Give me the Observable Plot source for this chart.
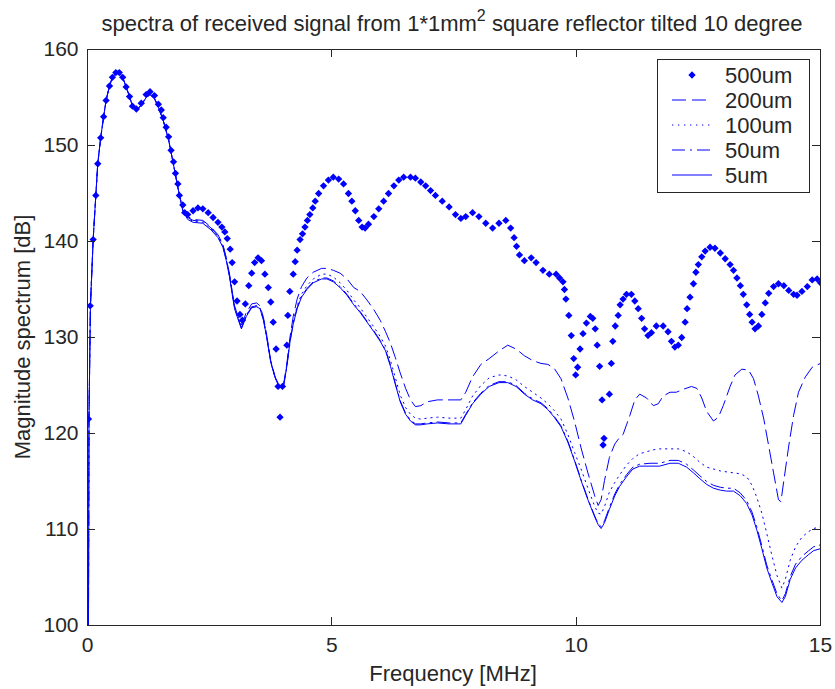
<!DOCTYPE html>
<html>
<head>
<meta charset="utf-8">
<script src="https://cdn.jsdelivr.net/npm/d3@7"></script>
<script src="https://cdn.jsdelivr.net/npm/@observablehq/plot@0.6"></script>
<style>
  body { margin: 0; background: #fff; }
  #chart { width: 835px; height: 689px; }
</style>
</head>
<body>
<div id="chart"></div>
<script>
// ---------- text ----------
const titleMain = "spectra of received signal from 1*1mm";
const titleSup = "2";
const titleRest = " square reflector tilted 10 degree";
const xLabel = "Frequency [MHz]";
const yLabel = "Magnitude spectrum [dB]";
const xTicks = [0, 5, 10, 15];
const yTicks = [100, 110, 120, 130, 140, 150, 160];
const seriesNames = ["500um", "200um", "100um", "50um", "5um"];

// ---------- data: [frequency MHz, magnitude dB] ----------
const s500 = [[0.02,121.5],[0.055,133.3],[0.116,140.2],[0.17,144.8],[0.21,148.1],[0.27,150.8],[0.33,153.0],[0.38,154.7],[0.45,156.2],[0.51,157.1],[0.58,157.6],[0.65,157.6],[0.72,157.1],[0.79,156.1],[0.86,155.1],[0.92,154.1],[1.0,153.8],[1.1,154.4],[1.2,155.3],[1.28,155.6],[1.37,155.2],[1.45,154.3],[1.51,153.7],[1.55,152.9],[1.61,151.9],[1.66,150.9],[1.71,149.5],[1.76,148.3],[1.8,147.1],[1.85,146.0],[1.88,144.8],[1.95,143.8],[1.99,143.0],[2.05,142.8],[2.16,143.2],[2.26,143.5],[2.36,143.4],[2.47,143.0],[2.57,142.5],[2.67,142.0],[2.75,141.5],[2.81,141.0],[2.86,140.3],[2.92,139.2],[2.96,137.8],[3.01,135.8],[3.06,133.8],[3.12,132.4],[3.17,131.8],[3.23,133.5],[3.30,135.4],[3.36,136.7],[3.42,137.8],[3.49,138.3],[3.56,138.0],[3.63,136.6],[3.70,135.2],[3.75,133.7],[3.80,131.6],[3.86,128.8],[3.90,124.9],[3.94,121.7],[3.99,124.9],[4.08,129.2],[4.10,132.3],[4.14,134.8],[4.21,136.6],[4.25,137.9],[4.29,139.1],[4.35,140.2],[4.40,140.8],[4.45,141.5],[4.50,142.2],[4.55,142.8],[4.61,143.5],[4.66,144.2],[4.73,145.0],[4.83,145.8],[4.93,146.4],[5.03,146.7],[5.14,146.5],[5.24,146.0],[5.34,145.0],[5.41,144.2],[5.48,143.2],[5.55,142.2],[5.62,141.5],[5.68,141.4],[5.75,141.8],[5.86,142.6],[5.96,143.4],[6.06,144.2],[6.16,145.0],[6.27,145.8],[6.37,146.4],[6.47,146.7],[6.61,146.7],[6.71,146.6],[6.82,146.2],[6.92,145.8],[7.02,145.3],[7.12,144.8],[7.26,144.2],[7.40,143.6],[7.53,142.8],[7.64,142.4],[7.74,142.6],[7.88,143.0],[8.01,142.6],[8.15,141.9],[8.29,141.4],[8.42,141.9],[8.56,142.2],[8.66,141.4],[8.73,140.4],[8.78,139.5],[8.84,138.6],[8.94,138.0],[9.08,138.3],[9.18,137.8],[9.32,137.0],[9.45,136.6],[9.59,136.6],[9.66,136.2],[9.73,135.8],[9.76,135.0],[9.79,134.0],[9.85,132.3],[9.90,130.2],[9.95,127.8],[9.99,126.1],[10.03,126.9],[10.08,128.8],[10.14,130.4],[10.21,131.5],[10.29,132.2],[10.34,132.0],[10.39,130.9],[10.43,129.2],[10.48,127.0],[10.53,123.5],[10.57,119.5],[10.55,118.8],[10.68,124.1],[10.72,127.3],[10.75,129.6],[10.80,131.2],[10.86,132.3],[10.90,133.4],[10.96,134.0],[11.03,134.5],[11.13,134.5],[11.20,133.8],[11.27,133.0],[11.34,132.0],[11.40,130.9],[11.47,130.2],[11.54,130.5],[11.64,131.2],[11.78,131.2],[11.88,130.6],[11.95,129.6],[12.02,129.0],[12.09,129.2],[12.16,130.0],[12.23,131.6],[12.27,133.0],[12.33,134.2],[12.40,135.6],[12.45,136.8],[12.50,137.6],[12.57,138.4],[12.64,139.0],[12.74,139.4],[12.84,139.3],[12.95,138.8],[13.05,138.2],[13.15,137.6],[13.22,137.0],[13.29,136.2],[13.36,135.4],[13.42,134.5],[13.49,133.4],[13.55,132.4],[13.60,131.6],[13.66,130.9],[13.73,131.2],[13.80,132.4],[13.87,133.6],[13.94,134.6],[14.04,135.3],[14.14,135.6],[14.25,135.4],[14.35,134.9],[14.45,134.5],[14.52,134.4],[14.62,134.8],[14.73,135.3],[14.83,136.0],[14.93,136.1],[15.0,135.7]];

const s200 = [[0.02,100],[0.03,121.5],[0.06,133.3],[0.116,140.2],[0.17,144.8],[0.21,148.1],[0.27,150.8],[0.33,153.0],[0.38,154.7],[0.45,156.2],[0.51,157.1],[0.58,157.6],[0.65,157.6],[0.72,157.1],[0.79,156.1],[0.86,155.1],[0.92,154.1],[1.0,153.7],[1.1,154.2],[1.2,155.0],[1.28,155.3],[1.37,154.9],[1.45,154.0],[1.55,152.6],[1.66,150.6],[1.76,148.0],[1.85,145.6],[1.95,143.3],[2.05,142.6],[2.16,142.3],[2.36,142.2],[2.53,141.5],[2.67,140.7],[2.77,139.7],[2.84,138.3],[2.91,136.5],[2.97,134.5],[3.01,133.3],[3.06,132.5],[3.15,131.3],[3.25,132.6],[3.36,133.5],[3.46,133.6],[3.53,133.3],[3.60,132.1],[3.66,130.5],[3.75,127.6],[3.84,125.9],[3.92,125.0],[4.01,125.0],[4.08,127.3],[4.14,129.9],[4.21,132.2],[4.29,134.0],[4.38,135.3],[4.49,136.2],[4.62,136.8],[4.79,137.2],[4.90,137.2],[5.03,137.0],[5.17,136.7],[5.31,136.1],[5.45,135.2],[5.58,134.8],[5.72,133.9],[5.86,132.9],[5.99,131.8],[6.10,130.6],[6.20,129.4],[6.30,127.9],[6.40,126.3],[6.51,124.7],[6.61,123.5],[6.71,122.8],[6.82,122.9],[6.95,123.3],[7.16,123.5],[7.40,123.5],[7.64,123.5],[7.74,124.3],[7.88,125.9],[8.05,127.2],[8.22,127.8],[8.42,128.6],[8.60,129.2],[8.77,128.8],[8.94,128.1],[9.11,127.6],[9.28,127.3],[9.42,127.2],[9.55,126.8],[9.69,125.7],[9.83,123.7],[9.97,121.2],[10.10,118.5],[10.24,115.9],[10.38,113.5],[10.45,112.5],[10.51,113.1],[10.58,115.1],[10.68,117.5],[10.79,118.9],[10.89,119.6],[10.96,119.9],[11.03,120.9],[11.10,121.9],[11.20,123.5],[11.30,124.1],[11.44,123.7],[11.58,122.9],[11.68,123.1],[11.78,123.9],[11.92,124.3],[12.05,124.3],[12.19,124.6],[12.36,124.9],[12.47,124.7],[12.57,123.7],[12.67,122.3],[12.81,121.3],[12.91,121.7],[13.01,122.9],[13.15,124.9],[13.25,126.1],[13.39,126.7],[13.53,126.6],[13.63,125.7],[13.73,123.9],[13.84,121.5],[13.94,118.7],[14.04,115.9],[14.14,113.1],[14.19,112.9],[14.25,115.1],[14.35,118.7],[14.45,121.9],[14.55,124.3],[14.69,125.9],[14.83,126.9],[15.0,127.3]];

const s100 = [[0.02,100],[0.03,121.5],[0.06,133.3],[0.116,140.2],[0.17,144.8],[0.21,148.1],[0.27,150.8],[0.33,153.0],[0.38,154.7],[0.45,156.2],[0.51,157.1],[0.58,157.6],[0.65,157.6],[0.72,157.1],[0.79,156.1],[0.86,155.1],[0.92,154.1],[1.0,153.7],[1.1,154.2],[1.2,155.0],[1.28,155.3],[1.37,154.9],[1.45,154.0],[1.55,152.6],[1.66,150.6],[1.76,148.0],[1.85,145.6],[1.95,143.2],[2.05,142.4],[2.16,142.1],[2.36,142.0],[2.53,141.3],[2.67,140.5],[2.77,139.5],[2.84,138.1],[2.91,136.3],[2.97,134.3],[3.01,133.1],[3.06,132.3],[3.15,131.0],[3.25,132.3],[3.36,133.2],[3.46,133.3],[3.53,133.1],[3.60,131.9],[3.66,130.3],[3.75,127.5],[3.84,125.8],[3.92,124.9],[4.01,124.9],[4.08,127.1],[4.14,129.6],[4.21,131.7],[4.29,133.3],[4.38,134.5],[4.49,135.4],[4.62,136.1],[4.79,136.6],[4.90,136.6],[5.03,136.3],[5.17,135.7],[5.31,134.9],[5.45,133.9],[5.58,133.1],[5.72,132.1],[5.86,131.1],[5.99,130.1],[6.10,129.1],[6.20,127.6],[6.30,125.8],[6.40,124.0],[6.51,122.7],[6.61,122.0],[6.71,121.6],[6.82,121.5],[6.95,121.6],[7.16,121.7],[7.40,121.6],[7.64,121.6],[7.74,122.5],[7.88,123.9],[8.05,125.0],[8.22,125.8],[8.42,126.1],[8.60,126.0],[8.77,125.6],[8.94,124.9],[9.11,124.3],[9.28,123.7],[9.42,123.1],[9.55,122.4],[9.69,121.5],[9.83,119.9],[9.97,118.0],[10.10,116.3],[10.24,114.3],[10.38,112.4],[10.45,111.7],[10.51,111.6],[10.58,112.4],[10.68,113.9],[10.79,114.9],[10.89,115.7],[11.03,116.7],[11.16,117.4],[11.30,117.9],[11.44,118.1],[11.58,118.3],[11.71,118.4],[11.92,118.4],[12.09,118.4],[12.26,118.1],[12.40,117.6],[12.53,117.0],[12.67,116.5],[12.81,116.3],[12.95,116.1],[13.08,116.0],[13.22,115.9],[13.36,115.8],[13.49,115.5],[13.60,114.6],[13.70,113.3],[13.80,111.7],[13.90,109.6],[14.01,107.2],[14.11,105.2],[14.21,103.9],[14.28,104.8],[14.38,106.8],[14.49,108.2],[14.62,109.2],[14.76,109.8],[14.86,110.1],[15.0,110.3]];

const s50 = [[0.02,100],[0.03,121.5],[0.06,133.3],[0.116,140.2],[0.17,144.8],[0.21,148.1],[0.27,150.8],[0.33,153.0],[0.38,154.7],[0.45,156.2],[0.51,157.1],[0.58,157.6],[0.65,157.6],[0.72,157.1],[0.79,156.1],[0.86,155.1],[0.92,154.1],[1.0,153.7],[1.1,154.2],[1.2,155.0],[1.28,155.3],[1.37,154.9],[1.45,154.0],[1.55,152.6],[1.66,150.6],[1.76,148.0],[1.85,145.6],[1.95,143.2],[2.05,142.5],[2.16,142.2],[2.36,142.1],[2.53,141.4],[2.67,140.6],[2.77,139.6],[2.84,138.2],[2.91,136.4],[2.97,134.4],[3.01,133.1],[3.06,132.3],[3.15,131.0],[3.25,132.3],[3.36,133.2],[3.46,133.3],[3.53,133.1],[3.60,131.9],[3.66,130.3],[3.75,127.5],[3.84,125.8],[3.92,124.9],[4.01,124.9],[4.08,127.0],[4.14,129.5],[4.21,131.5],[4.29,133.1],[4.38,134.3],[4.49,135.1],[4.62,135.8],[4.79,136.2],[4.90,136.2],[5.03,135.9],[5.17,135.3],[5.31,134.5],[5.45,133.5],[5.58,132.7],[5.72,131.7],[5.86,130.7],[5.99,129.7],[6.10,128.7],[6.20,127.1],[6.30,125.2],[6.40,123.4],[6.51,122.1],[6.61,121.4],[6.71,121.0],[6.82,121.0],[6.95,121.1],[7.16,121.2],[7.40,121.1],[7.64,121.1],[7.74,122.0],[7.88,123.2],[8.05,124.2],[8.22,125.0],[8.42,125.4],[8.60,125.4],[8.77,125.0],[8.94,124.2],[9.11,123.6],[9.28,123.2],[9.42,122.6],[9.55,121.8],[9.69,120.8],[9.83,119.2],[9.97,117.2],[10.10,115.2],[10.24,113.2],[10.38,111.4],[10.45,110.6],[10.51,110.3],[10.58,110.9],[10.68,112.3],[10.79,113.7],[10.89,114.7],[11.03,115.7],[11.16,116.5],[11.30,116.8],[11.51,116.9],[11.71,116.9],[11.92,117.2],[12.09,117.2],[12.26,116.8],[12.40,116.2],[12.53,115.6],[12.67,115.0],[12.81,114.6],[12.95,114.4],[13.08,114.3],[13.22,114.3],[13.36,113.8],[13.49,113.0],[13.60,111.8],[13.70,110.2],[13.80,108.3],[13.90,106.3],[14.01,104.7],[14.11,103.3],[14.21,102.6],[14.28,103.3],[14.38,105.1],[14.49,106.4],[14.62,107.2],[14.76,107.8],[14.86,108.2],[15.0,108.4]];

const s5 = [[0.02,100],[0.03,121.5],[0.06,133.3],[0.116,140.2],[0.17,144.8],[0.21,148.1],[0.27,150.8],[0.33,153.0],[0.38,154.7],[0.45,156.2],[0.51,157.1],[0.58,157.6],[0.65,157.6],[0.72,157.1],[0.79,156.1],[0.86,155.1],[0.92,154.1],[1.0,153.7],[1.1,154.2],[1.2,155.0],[1.28,155.3],[1.37,154.9],[1.45,154.0],[1.55,152.6],[1.66,150.6],[1.76,148.0],[1.85,145.6],[1.95,143.2],[2.05,142.3],[2.16,142.0],[2.36,141.9],[2.53,141.2],[2.67,140.4],[2.77,139.4],[2.84,138.0],[2.91,136.2],[2.97,134.2],[3.01,133.0],[3.06,132.2],[3.15,130.9],[3.25,132.2],[3.36,133.1],[3.46,133.2],[3.53,133.0],[3.60,131.8],[3.66,130.2],[3.75,127.4],[3.84,125.8],[3.92,124.9],[4.01,124.9],[4.08,127.0],[4.14,129.4],[4.21,131.4],[4.29,133.0],[4.38,134.2],[4.49,135.0],[4.62,135.7],[4.79,136.1],[4.90,136.1],[5.03,135.8],[5.17,135.2],[5.31,134.4],[5.45,133.4],[5.58,132.6],[5.72,131.6],[5.86,130.6],[5.99,129.6],[6.10,128.6],[6.20,127.0],[6.30,125.1],[6.40,123.3],[6.51,122.0],[6.61,121.3],[6.71,120.9],[6.82,120.9],[6.95,121.0],[7.16,121.1],[7.40,121.0],[7.64,121.0],[7.74,121.9],[7.88,123.1],[8.05,124.1],[8.22,124.9],[8.42,125.3],[8.60,125.3],[8.77,124.9],[8.94,124.1],[9.11,123.5],[9.28,123.1],[9.42,122.5],[9.55,121.7],[9.69,120.7],[9.83,119.1],[9.97,117.1],[10.10,115.1],[10.24,113.1],[10.38,111.3],[10.45,110.5],[10.51,110.1],[10.58,110.7],[10.68,112.1],[10.79,113.5],[10.89,114.5],[11.03,115.5],[11.16,116.3],[11.30,116.6],[11.51,116.6],[11.71,116.6],[11.92,116.9],[12.09,116.9],[12.26,116.5],[12.40,115.9],[12.53,115.3],[12.67,114.7],[12.81,114.3],[12.95,114.1],[13.08,114.0],[13.22,114.0],[13.36,113.5],[13.49,112.7],[13.60,111.5],[13.70,109.9],[13.80,108.0],[13.90,106.0],[14.01,104.4],[14.11,103.0],[14.21,102.4],[14.28,103.0],[14.38,104.8],[14.49,106.0],[14.62,106.8],[14.76,107.4],[14.86,107.8],[15.0,108.0]];

// ---------- styles ----------
const BLUE = "#0000ff";
const INK = "#262626";
const FONT = "'Liberation Sans', Arial, Helvetica, sans-serif";
const dashes = { "200um": "14,6", "100um": "1.3,4.7", "50um": "13,5,2,5", "5um": null };
const lineSeries = [["200um", s200], ["100um", s100], ["50um", s50], ["5um", s5]];
const W = 835, H = 689, ML = 87, MR = 15, MT = 49, MB = 64, TICK = 8;

const fx = d => d[0], fy = d => d[1];

const plot = Plot.plot({
  width: W,
  height: H,
  marginLeft: ML,
  marginRight: MR,
  marginTop: MT,
  marginBottom: MB,
  style: { fontFamily: FONT, fontSize: "21px", color: INK, background: "#fff", overflow: "visible" },
  x: { domain: [0, 15], ticks: xTicks },
  y: { domain: [100, 160], ticks: yTicks },
  marks: [
    Plot.dot(s500, { x: fx, y: fy, symbol: "diamond2", r: 3.3, fill: BLUE, stroke: "none", clip: true }),
    ...lineSeries.map(([name, data]) =>
      Plot.line(data, { x: fx, y: fy, stroke: BLUE, strokeWidth: 1, strokeDasharray: dashes[name], clip: true })
    ),
    Plot.frame({ stroke: INK, strokeWidth: 1 }),
    Plot.axisX({ anchor: "bottom", ticks: xTicks, tickSize: 0, tickPadding: 12, label: null, fontSize: 21 }),
    Plot.axisY({ anchor: "left", ticks: yTicks, tickSize: 0, tickPadding: 9, label: null, fontSize: 21 })
  ]
});

document.getElementById("chart").appendChild(plot);

const svg = d3.select(plot);

// ---------- inward tick marks on all four sides, positioned by Plot's own scales ----------
const xs = plot.scale("x"), ys = plot.scale("y");
const x0 = ML, x1 = W - MR, y0 = MT, y1 = H - MB;
const tg = svg.append("g").attr("stroke", INK).attr("stroke-width", 1).attr("fill", "none");
xTicks.forEach(v => {
  const px = Math.round(xs.apply(v)) + 0.5;
  tg.append("line").attr("x1", px).attr("x2", px).attr("y1", y1).attr("y2", y1 - TICK);
  tg.append("line").attr("x1", px).attr("x2", px).attr("y1", y0).attr("y2", y0 + TICK);
});
yTicks.forEach(v => {
  const py = Math.round(ys.apply(v)) + 0.5;
  tg.append("line").attr("x1", x0).attr("x2", x0 + TICK).attr("y1", py).attr("y2", py);
  tg.append("line").attr("x1", x1).attr("x2", x1 - TICK).attr("y1", py).attr("y2", py);
});

// ---------- title, axis labels, legend ----------
const t = svg.append("text")
  .attr("x", 452).attr("y", 31)
  .attr("text-anchor", "middle")
  .attr("font-family", FONT).attr("font-size", 22).attr("fill", INK);
t.append("tspan").text(titleMain);
t.append("tspan").attr("dy", -10).attr("font-size", 16).text(titleSup);
t.append("tspan").attr("dy", 10).text(titleRest);

svg.append("text")
  .attr("x", 453).attr("y", 681)
  .attr("text-anchor", "middle")
  .attr("font-family", FONT).attr("font-size", 22).attr("fill", INK)
  .text(xLabel);

svg.append("text")
  .attr("transform", "translate(30,337) rotate(-90)")
  .attr("text-anchor", "middle")
  .attr("font-family", FONT).attr("font-size", 22).attr("fill", INK)
  .text(yLabel);

const lg = svg.append("g");
lg.append("rect")
  .attr("x", 657.5).attr("y", 59.5).attr("width", 152).attr("height", 133)
  .attr("fill", "#fff").attr("stroke", INK).attr("stroke-width", 1);
seriesNames.forEach((name, i) => {
  const cy = 75 + i * 25;
  if (name === "500um") {
    lg.append("path")
      .attr("transform", `translate(692,${cy})`)
      .attr("d", d3.symbol(d3.symbolDiamond2, Math.PI * 3.3 * 3.3)())
      .attr("fill", BLUE);
  } else {
    lg.append("line")
      .attr("x1", 672).attr("x2", 712).attr("y1", cy).attr("y2", cy)
      .attr("stroke", BLUE).attr("stroke-width", 1)
      .attr("stroke-dasharray", dashes[name]);
  }
  lg.append("text")
    .attr("x", 725).attr("y", cy).attr("dy", "0.36em")
    .attr("text-anchor", "start")
    .attr("font-family", FONT).attr("font-size", 22).attr("fill", INK)
    .text(name);
});
</script>
</body>
</html>
